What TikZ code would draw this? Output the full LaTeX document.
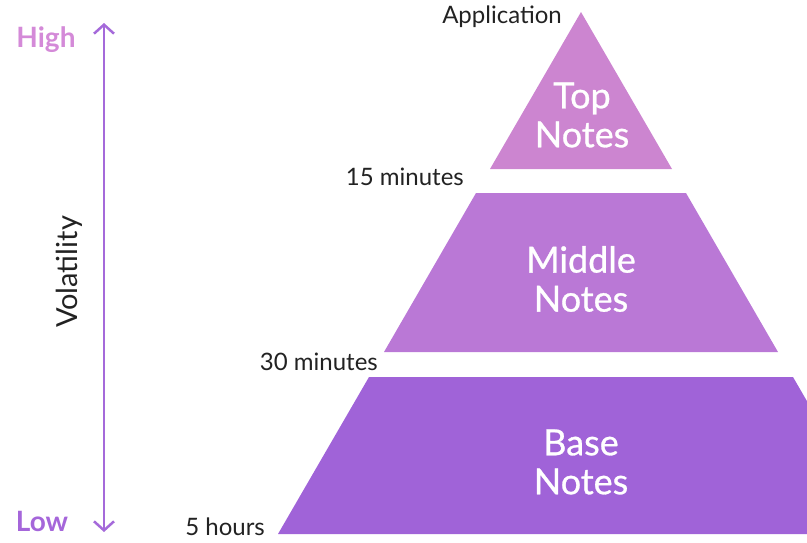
\documentclass[tikz,border=0pt]{standalone}
\usepackage{fontspec}
\setmainfont{Lato}
\usepackage{tikz}
\usetikzlibrary{positioning,arrows.meta}
\definecolor{topcol}{HTML}{CC85D0}
\definecolor{midcol}{HTML}{BA78D6}
\definecolor{basecol}{HTML}{A063D8}
\definecolor{highcol}{HTML}{D48AD8}
\definecolor{lowcol}{HTML}{A566DA}
\definecolor{arrowcol}{HTML}{A56ADA}
\definecolor{labelcol}{HTML}{222222}

\begin{document}
\begin{tikzpicture}[x=1pt, y=-1pt, >={Straight Barb[length=9pt,width=20pt]}]
	\tikzset{timelabel/.style={text=labelcol, inner sep=0pt, anchor=east, font=\fontsize{24}{28}\selectfont},
		notelabel/.style={text=white, align=center, inner sep=0pt, font=\fontsize{36}{39}\selectfont\addfontfeatures{FakeBold=0.8}},
		endlabel/.style={inner sep=0pt, font=\fontsize{28}{32}\selectfont\bfseries}}
	\useasboundingbox (0,0) rectangle (807,542);

	% pyramid layers
	\begin{scope}
		\clip (0,0) rectangle (807,542);
		\fill[topcol] (581,12) -- (672,169) -- (490,169) -- cycle;
		\fill[midcol] (476,193) -- (686,193) -- (778,352) -- (384,352) -- cycle;
		\fill[basecol] (369,377) -- (793,377) -- (884,534) -- (278,534) -- cycle;
	\end{scope}

	\node[notelabel] (top) at (582,115) {Top\\Notes};
	\node[notelabel] (middle) at (581,279) {Middle\\Notes};
	\node[notelabel] (base) at (581,462) {Base\\Notes};

	\node[timelabel] (app) at (562,17) {Application};
	\node[timelabel] (min15) at (464,177) {15 minutes};
	\node[timelabel] (min30) at (378,362) {30 minutes};
	\node[timelabel] (hours5) at (265,527) {5 hours};

	% volatility axis
	\coordinate (volhigh) at (104,23);
	\coordinate (vollow) at (104,532);
	\draw[<->, arrowcol, line width=2.5pt] (vollow) -- (volhigh);
	\node[endlabel, text=highcol] (high) at (46,40) {High};
	\node[endlabel, text=lowcol] (low) at (42,521) {Low};
	\node[text=labelcol, rotate=90, inner sep=0pt, font=\fontsize{29}{33}\selectfont] (vol) at (69,272) {Volatility};
\end{tikzpicture}
\end{document}
